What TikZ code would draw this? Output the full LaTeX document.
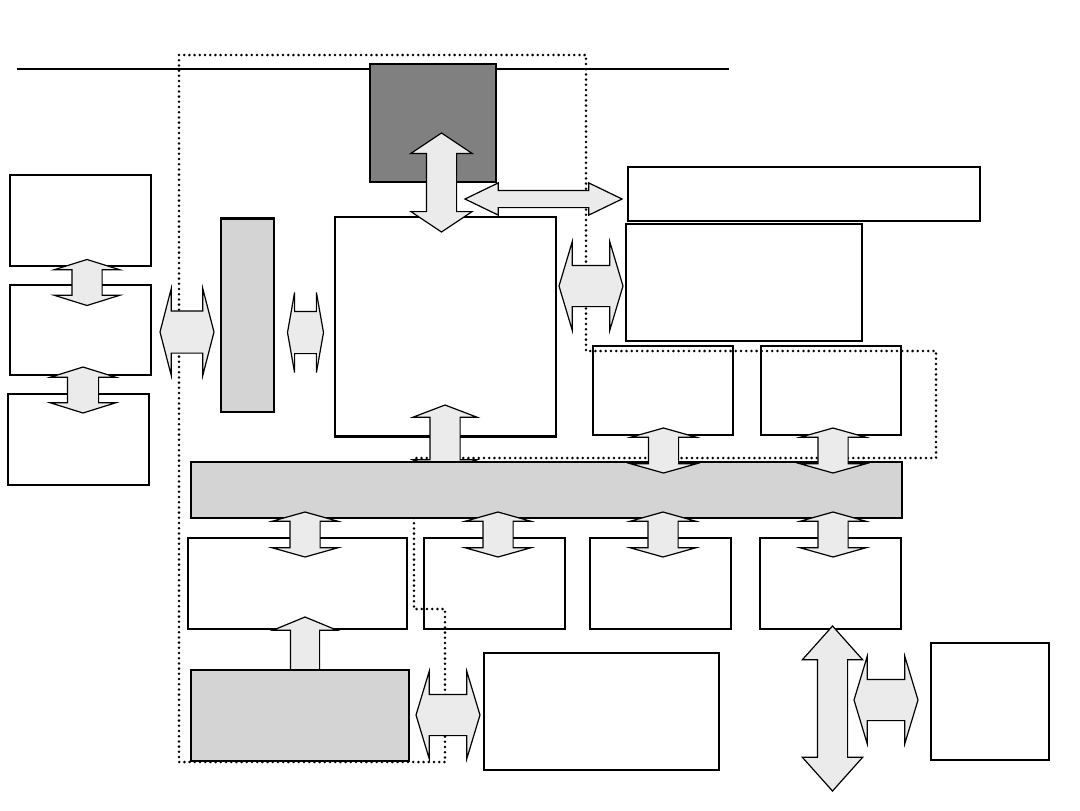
\documentclass[tikz,border=0pt]{standalone}
\usetikzlibrary{shapes.arrows,fit}
\tikzset{
  box/.style={draw, inner sep=0pt, line width=0.65pt},
  darkbox/.style={box, fill=black!50, line width=1pt},
  graybox/.style={box, fill=black!17},
  % length, shaft, head width, head length (pixels)
  blk/.style n args={4}{shape=double arrow, draw, fill=black!8, line width=0.6pt,
    inner xsep=0pt, inner ysep={#2*0.25pt}, minimum height={#1*0.5pt},
    minimum width={#3*0.5pt}, double arrow head extend={(#3-#2)*0.25pt},
    double arrow tip angle={2*atan(#3/(2*#4))}},
  dots/.style={line width=1.4pt, dash pattern=on 0pt off 2.6pt, line cap=round}
}
\begin{document}
\begin{tikzpicture}[x=0.5pt,y=-0.5pt]
\useasboundingbox (0,0) rectangle (1080,810);

% Linea superior
\coordinate (lineL) at (17,69);
\coordinate (lineR) at (729,69);
\draw[line width=1pt] (lineL) -- (lineR);

% Contorno punteado
\draw[dots] (179,55) -- (586,55) -- (586,351) -- (936,351) -- (936,458)
  -- (414,458) -- (414,609) -- (445,609) -- (445,762) -- (179,762) -- cycle;

% Bloques
\node[darkbox, fit={(370,64) (496,182)}] (cpu) {};
\node[box, fit={(10,175) (151,266)}] (ltop) {};
\node[box, fit={(10,285) (151,375)}] (lmid) {};
\node[box, fit={(8,394) (149,485)}] (lbot) {};
\node[graybox, fit={(221,219) (274,412)}] (bar) {};
\draw[line width=1pt] (bar.north west) -- (bar.north east);
\node[box, fit={(335,217) (556,436)}] (core) {};
\draw[line width=1pt] (core.south west) -- (core.south east);
\node[box, fit={(628,167) (980,221)}] (wide) {};
\node[box, fit={(626,224) (862,341)}] (side) {};
\node[box, fit={(593,346) (733,435)}] (rA) {};
\node[box, fit={(761,346) (901,435)}] (rB) {};
\node[box, fit={(188,538) (407,629)}] (bA) {};
\node[box, fit={(424,538) (565,629)}] (bB) {};
\node[box, fit={(590,538) (731,629)}] (bC) {};
\node[box, fit={(760,538) (901,629)}] (bD) {};
\node[box, fit={(484,653) (719,770)}] (dev) {};
\node[box, fit={(931,643) (1049,760)}] (ext) {};

% Flechas bajo el bus
\node[blk={67}{29}{63}{12}, rotate=90] (aCore) at (445,438.5) {};
\node[blk={66}{28}{63}{13}, rotate=90] (aBase) at (305,650) {};
\node[graybox, fit={(191,462) (902,518)}] (bus) {};
\node[graybox, fit={(191,670) (409,761)}] (base) {};

% Flechas
\node[blk={99}{29}{60}{20}, rotate=90] (aCpu) at (441.5,182.5) {};
\node[blk={157}{16}{31}{32}] (aWide) at (543.5,199) {};
\node[blk={64}{40}{87}{13}] (aSide) at (591,286) {};
\node[blk={46}{29}{64}{10}, rotate=90] (aL1) at (87,282.5) {};
\node[blk={46}{30}{64}{10}, rotate=90] (aL2) at (83,390) {};
\node[blk={54}{41}{85}{11}] (aBar) at (187,332) {};
\node[blk={36}{41}{79}{7}] (aBarR) at (305.5,332.5) {};
\node[blk={45}{29}{64}{9}, rotate=90] (aRA) at (663.5,450.5) {};
\node[blk={45}{29}{64}{9}, rotate=90] (aRB) at (833,450.5) {};
\foreach \x/\n in {305/bA,498/bB,663/bC,833/bD}
  \node[blk={45}{29}{64}{9}, rotate=90] (a\n) at (\x,534.5) {};
\node[blk={64}{40}{86}{13}] (aDev) at (448,715) {};
\node[blk={165}{29}{59}{33}, rotate=90] (aLong) at (832.5,708.5) {};
\node[blk={64}{40}{86}{13}] (aExt) at (886,700) {};

\end{tikzpicture}
\end{document}
